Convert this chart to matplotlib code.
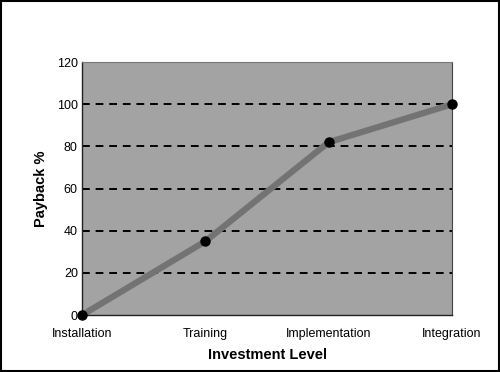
import matplotlib
matplotlib.use("Agg")
import matplotlib.pyplot as plt

categories = ["Installation", "Training", "Implementation", "Integration"]
payback = [0, 35, 82, 100]
y_ticks = [0, 20, 40, 60, 80, 100, 120]

plt.rcParams['font.family'] = ['Liberation Sans', 'DejaVu Sans']

fig = plt.figure(figsize=(5, 3.72), dpi=100)
ax = fig.add_axes([0.164, 0.153, 0.740, 0.680])
ax.set_facecolor('#a3a3a3')

x = list(range(len(categories)))
for v in y_ticks[1:-1]:
    ax.axhline(v, color='black', linestyle=(0, (4, 3)), linewidth=1.4, zorder=1)

ax.plot(x, payback, color='#737373', linewidth=4.5, zorder=2, solid_capstyle='round', clip_on=False)
ax.plot(x, payback, linestyle='none', marker='o', markersize=6.5, color='black', zorder=3, clip_on=False)

ax.set_xlim(0, 3)
ax.set_ylim(0, 120)
ax.set_yticks(y_ticks)
ax.set_yticklabels([str(v) for v in y_ticks], fontsize=9)
ax.set_xticks(x)
ax.set_xticklabels(categories, fontsize=9)
ax.tick_params(axis='both', length=0, pad=3)
ax.tick_params(axis='x', pad=9)

for s in ['left', 'bottom']:
    ax.spines[s].set_color('#222222')
    ax.spines[s].set_linewidth(1.0)
ax.spines['right'].set_color('#444444')
ax.spines['top'].set_color('#777777')

ax.set_ylabel('Payback %', fontsize=10.5, fontweight='bold', labelpad=6)
ax.set_xlabel('Investment Level', fontsize=10.5, fontweight='bold', labelpad=6)

border = plt.Rectangle((0.002, 0.003), 0.996, 0.994, transform=fig.transFigure,
                       fill=False, edgecolor='black', linewidth=1.5)
fig.patches.append(border)

fig.savefig('out.png', dpi=100)
